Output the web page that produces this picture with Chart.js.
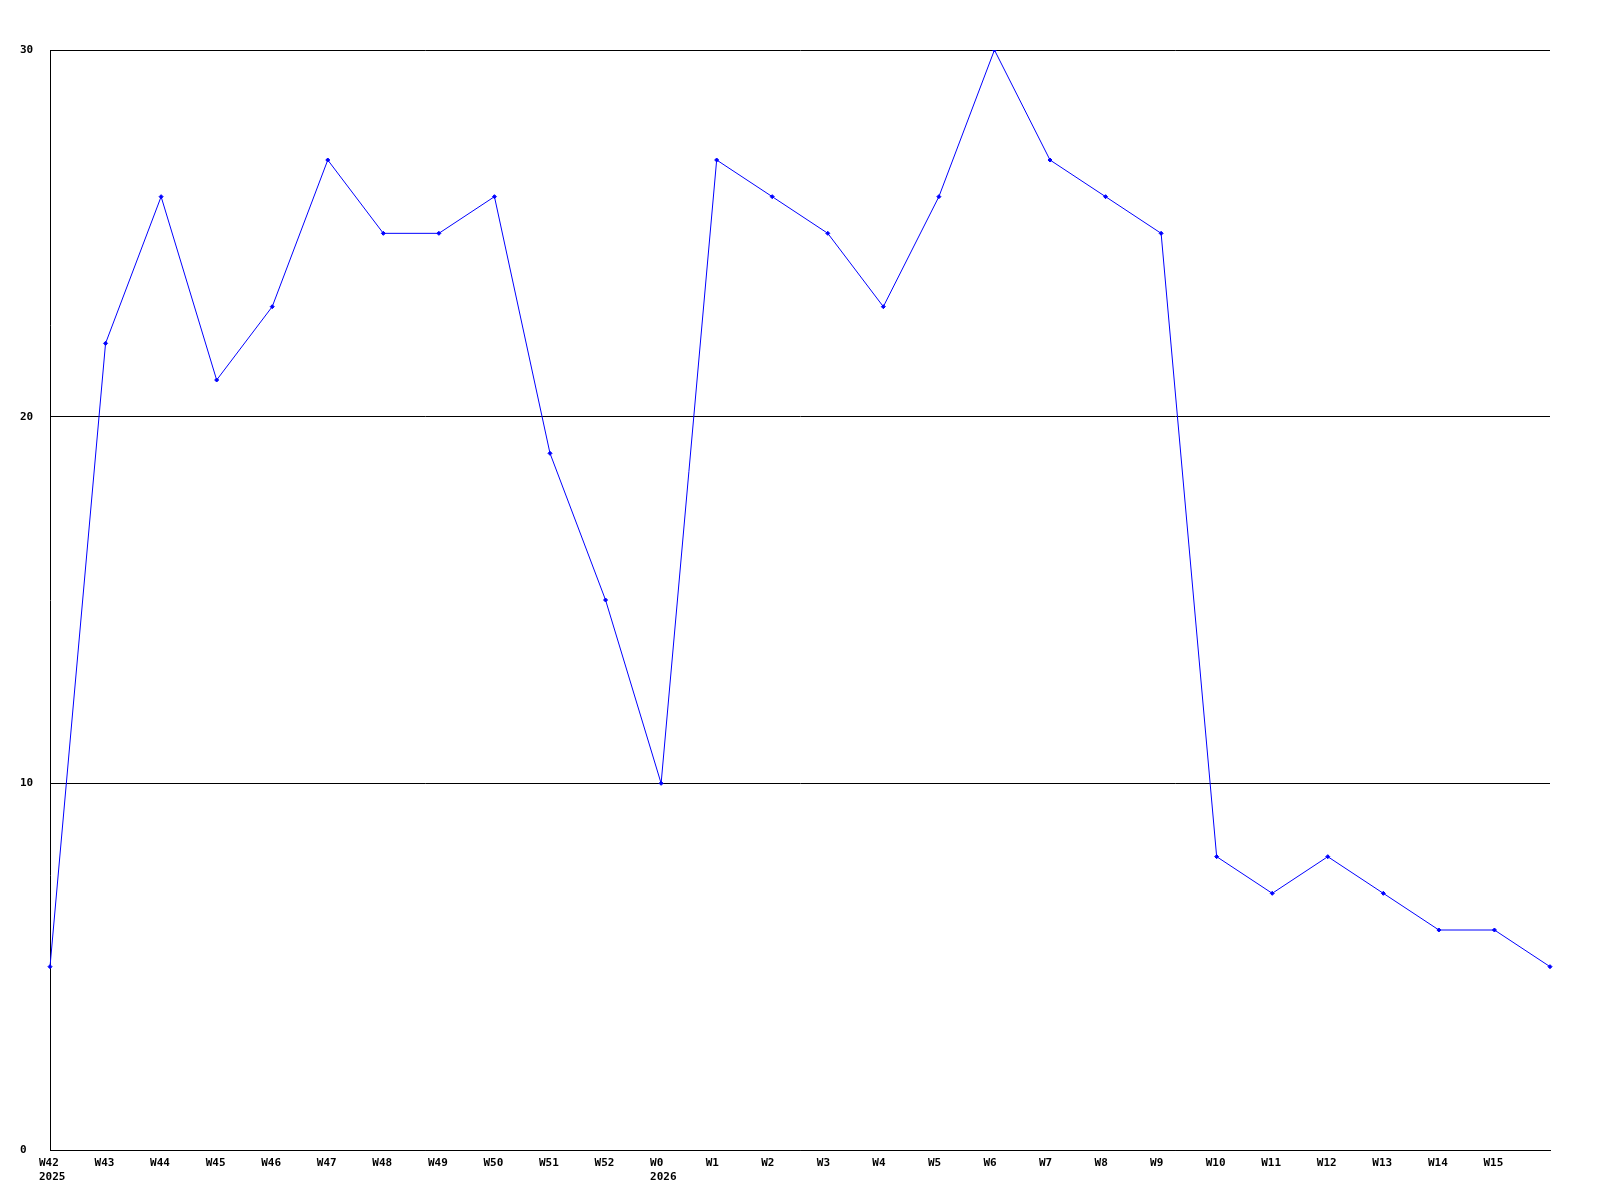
<!DOCTYPE html>
<html>
<head>
<meta charset="utf-8">
<script src="https://cdn.jsdelivr.net/npm/chart.js@4/dist/chart.umd.min.js"></script>
<style>
html,body{margin:0;padding:0;background:#fff;}
#wrap{width:1600px;height:1200px;}
</style>
</head>
<body>
<div id="wrap"><canvas id="c" width="1600" height="1200"></canvas></div>
<script>
const weeks = ['W42','W43','W44','W45','W46','W47','W48','W49','W50','W51','W52','W0','W1','W2','W3','W4','W5','W6','W7','W8','W9','W10','W11','W12','W13','W14','W15',''];
const years = ['2025','','','','','','','','','','','2026','','','','','','','','','','','','','','','',''];
const values = [5,22,26,21,23,27,25,25,26,19,15,10,27,26,25,23,26,30,27,26,25,8,7,8,7,6,6,5];
const yTicks = [0,10,20,30];

const labels = weeks.map((w,i)=> years[i] ? [w, years[i]] : w);
const font = {family:'"DejaVu Sans Mono", monospace', size:11, weight:'bold', lineHeight:1.2};

new Chart(document.getElementById('c'), {
  type:'line',
  data:{labels, datasets:[{
    data: values,
    borderColor:'#0000ff',
    backgroundColor:'#0000ff',
    borderWidth:1,
    pointStyle:'rectRot',
    pointRadius:2,
    pointBorderWidth:1,
    tension:0,
    fill:false
  }]},
  options:{
    responsive:false,
    animation:false,
    devicePixelRatio:1,
    layout:{padding:{top:50,right:50,left:20,bottom:0}},
    plugins:{legend:{display:false},tooltip:{enabled:false}},
    scales:{
      x:{
        type:'category',
        offset:false,
        grid:{display:false,drawTicks:false},
        border:{display:true,color:'#000',width:1},
        ticks:{color:'#000',font,autoSkip:false,maxRotation:0,minRotation:0,padding:7,align:'start',labelOffset:-11},
        afterFit(s){s.height=50;}
      },
      y:{
        min:0,max:30,
        afterBuildTicks(s){s.ticks = yTicks.map(v=>({value:v}));},
        grid:{color:'#000',lineWidth:1,drawTicks:false},
        border:{display:true,color:'#000',width:1},
        ticks:{color:'#000',font,padding:10,crossAlign:'far'},
        afterFit(s){s.width=30;}
      }
    }
  }
});
</script>
</body>
</html>
